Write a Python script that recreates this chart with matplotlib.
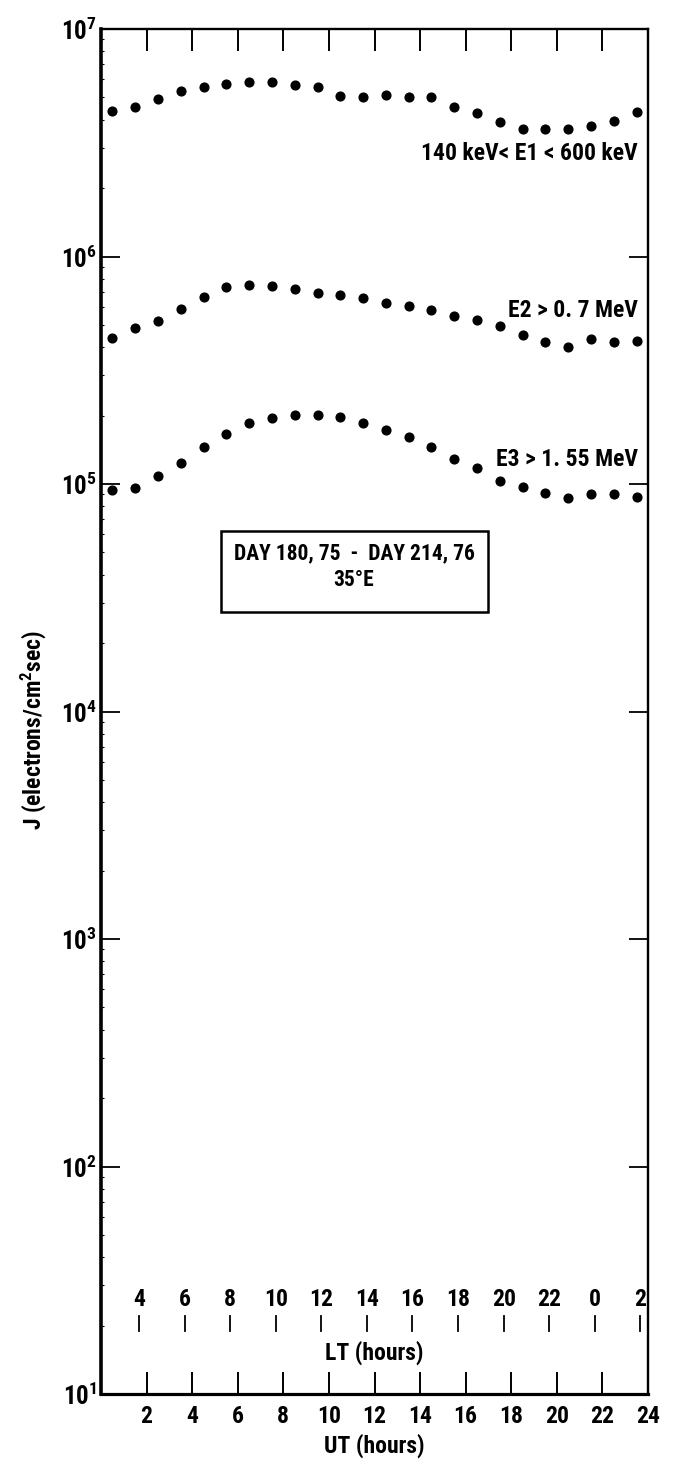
import numpy as np
import matplotlib
matplotlib.use("Agg")
import matplotlib.pyplot as plt
import matplotlib.transforms as mtransforms
from matplotlib.patches import Rectangle
from matplotlib.ticker import NullFormatter, FixedLocator, LogFormatterSciNotation

FAM = ['Liberation Sans Narrow', 'Roboto Condensed', 'Roboto', 'DejaVu Sans']
plt.rcParams['font.family'] = FAM
plt.rcParams['font.weight'] = 'bold'
plt.rcParams['axes.labelweight'] = 'bold'
plt.rcParams['mathtext.fontset'] = 'custom'
plt.rcParams['mathtext.rm'] = 'Roboto Condensed:bold'
plt.rcParams['mathtext.it'] = 'Roboto Condensed:bold'
plt.rcParams['mathtext.bf'] = 'Roboto Condensed:bold'
plt.rcParams['mathtext.default'] = 'bf'

# ---- data ----
ut_hours = [0.5, 1.5, 2.5, 3.5, 4.5, 5.5, 6.5, 7.5, 8.5, 9.5, 10.5, 11.5,
            12.5, 13.5, 14.5, 15.5, 16.5, 17.5, 18.5, 19.5, 20.5, 21.5, 22.5, 23.5]
e1_flux = [4.36e6, 4.54e6, 4.92e6, 5.34e6, 5.56e6, 5.73e6, 5.85e6, 5.85e6,
           5.67e6, 5.56e6, 5.08e6, 5.03e6, 5.13e6, 5.03e6, 5.03e6, 4.54e6,
           4.27e6, 3.90e6, 3.64e6, 3.64e6, 3.64e6, 3.75e6, 3.95e6, 4.32e6]
e2_flux = [4.39e5, 4.86e5, 5.21e5, 5.89e5, 6.65e5, 7.35e5, 7.50e5, 7.43e5,
           7.21e5, 6.92e5, 6.78e5, 6.58e5, 6.25e5, 6.07e5, 5.82e5, 5.48e5,
           5.27e5, 4.95e5, 4.53e5, 4.22e5, 4.01e5, 4.35e5, 4.22e5, 4.26e5]
e3_flux = [9.44e4, 9.62e4, 1.08e5, 1.24e5, 1.46e5, 1.66e5, 1.86e5, 1.95e5,
           2.01e5, 2.01e5, 1.97e5, 1.86e5, 1.73e5, 1.61e5, 1.46e5, 1.29e5,
           1.18e5, 1.03e5, 9.72e4, 9.15e4, 8.69e4, 9.06e4, 9.06e4, 8.79e4]

y_decades = [1e1, 1e2, 1e3, 1e4, 1e5, 1e6, 1e7]
y_minor = [m * d for d in y_decades[:-1] for m in range(2, 10)]
ut_ticks = [2, 4, 6, 8, 10, 12, 14, 16, 18, 20, 22, 24]
lt_labels = [4, 6, 8, 10, 12, 14, 16, 18, 20, 22, 0, 2]
lt_offset = 35.0 / 15.0  # 35 deg E

series_labels = ["140 keV< E1 < 600 keV", "E2 > 0. 7 MeV", "E3 > 1. 55 MeV"]
label_flux = [2.85e6, 5.8e5, 1.28e5]
box_lines = ["DAY 180, 75  -  DAY 214, 76", "35°E"]

FS = 17

# ---- figure ----
W, H = 673, 1468
fig = plt.figure(figsize=(W / 100, H / 100), dpi=100)
ax = fig.add_axes([101 / W, (H - 1394) / H, (648 - 101) / W, (1394 - 29) / H])

for flux in (e1_flux, e2_flux, e3_flux):
    ax.plot(ut_hours, flux, 'o', color='black', markersize=6.3, linestyle='none')

ax.set_yscale('log')
ax.set_ylim(1e1, 1e7)
ax.set_xlim(0, 24)

for side, lw in (('left', 2.6), ('bottom', 2.3), ('top', 1.7), ('right', 1.7)):
    ax.spines[side].set_linewidth(lw)

# y ticks
ax.yaxis.set_major_locator(FixedLocator(y_decades))
ax.yaxis.set_major_formatter(LogFormatterSciNotation())
ax.yaxis.set_minor_locator(FixedLocator(y_minor))
ax.yaxis.set_minor_formatter(NullFormatter())
ax.tick_params(axis='y', which='major', direction='in', length=14, width=1.3,
               left=True, right=True, labelsize=FS + 1, pad=3)
ax.tick_params(axis='y', which='minor', direction='in', length=2.5, width=0.8,
               left=True, right=False)

# x ticks (bottom labelled, top unlabelled)
ax.xaxis.set_major_locator(FixedLocator(ut_ticks))
ax.set_xticklabels([str(t) for t in ut_ticks])
ax.tick_params(axis='x', which='major', direction='in', length=15.5, width=1.4,
               bottom=True, top=True, labeltop=False, labelsize=FS, pad=8)
ax.set_xlabel("UT (hours)", fontsize=FS, fontweight='bold', labelpad=4)

# inner LT scale
trans = mtransforms.blended_transform_factory(ax.transData, ax.transAxes)
for lt in lt_labels:
    ut = (lt - lt_offset) % 24
    ax.plot([ut, ut], [0.0462, 0.0571], color='black', lw=1.3, transform=trans,
            clip_on=False)
    ax.text(ut, 0.0695, str(lt), transform=trans, ha='center', va='center',
            fontsize=FS)
ax.text(12, 0.030, "LT (hours)", transform=trans, ha='center', va='center',
        fontsize=FS)

# series labels
for lab, fl in zip(series_labels, label_flux):
    ax.text(23.55, fl, lab, ha='right', va='center', fontsize=FS)

# boxed annotation
fig.patches.append(Rectangle((221 / W, 1 - 612 / H), (488 - 221) / W, (612 - 531) / H,
                             transform=fig.transFigure, facecolor='none',
                             edgecolor='black', linewidth=1.8))
fig.text(354 / W, 1 - 553 / H, box_lines[0], ha='center', va='center', fontsize=FS - 1.5)
fig.text(354 / W, 1 - 580 / H, box_lines[1], ha='center', va='center', fontsize=FS - 1.5)

# y label
fig.text(33 / W, 1 - 730 / H, "J (electrons/cm$^{2}$sec)", rotation=90,
         ha='center', va='center', fontsize=FS)

fig.savefig("out.png", dpi=100)
